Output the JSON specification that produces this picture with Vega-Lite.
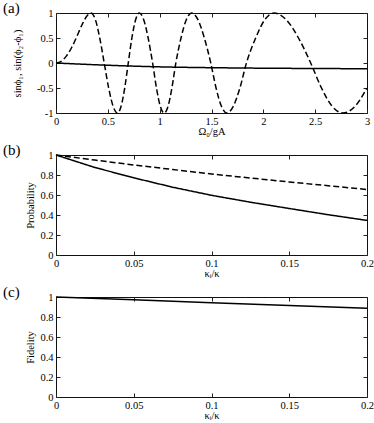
{
  "$schema": "https://vega.github.io/schema/vega-lite/v6.json",
  "padding": {"left": 2, "top": 0, "right": 0, "bottom": 0},
  "spacing": 42,
  "bounds": "flush",
  "datasets": {
    "a": [
      {"series": "dashed", "x": 0, "y": 0},
      {"series": "dashed", "x": 0.05, "y": 0.034},
      {"series": "dashed", "x": 0.1, "y": 0.138},
      {"series": "dashed", "x": 0.15, "y": 0.305},
      {"series": "dashed", "x": 0.2, "y": 0.524},
      {"series": "dashed", "x": 0.25, "y": 0.76},
      {"series": "dashed", "x": 0.3, "y": 0.946},
      {"series": "dashed", "x": 0.337, "y": 1},
      {"series": "dashed", "x": 0.38, "y": 0.866},
      {"series": "dashed", "x": 0.422, "y": 0.5},
      {"series": "dashed", "x": 0.465, "y": 0},
      {"series": "dashed", "x": 0.508, "y": -0.5},
      {"series": "dashed", "x": 0.551, "y": -0.866},
      {"series": "dashed", "x": 0.594, "y": -1},
      {"series": "dashed", "x": 0.628, "y": -0.866},
      {"series": "dashed", "x": 0.663, "y": -0.5},
      {"series": "dashed", "x": 0.697, "y": 0},
      {"series": "dashed", "x": 0.732, "y": 0.5},
      {"series": "dashed", "x": 0.768, "y": 0.866},
      {"series": "dashed", "x": 0.803, "y": 1},
      {"series": "dashed", "x": 0.846, "y": 0.866},
      {"series": "dashed", "x": 0.889, "y": 0.5},
      {"series": "dashed", "x": 0.932, "y": 0},
      {"series": "dashed", "x": 0.969, "y": -0.5},
      {"series": "dashed", "x": 1.006, "y": -0.866},
      {"series": "dashed", "x": 1.043, "y": -1},
      {"series": "dashed", "x": 1.081, "y": -0.866},
      {"series": "dashed", "x": 1.118, "y": -0.5},
      {"series": "dashed", "x": 1.156, "y": 0},
      {"series": "dashed", "x": 1.206, "y": 0.5},
      {"series": "dashed", "x": 1.257, "y": 0.866},
      {"series": "dashed", "x": 1.307, "y": 1},
      {"series": "dashed", "x": 1.369, "y": 0.866},
      {"series": "dashed", "x": 1.431, "y": 0.5},
      {"series": "dashed", "x": 1.493, "y": 0},
      {"series": "dashed", "x": 1.544, "y": -0.5},
      {"series": "dashed", "x": 1.596, "y": -0.866},
      {"series": "dashed", "x": 1.647, "y": -1},
      {"series": "dashed", "x": 1.71, "y": -0.866},
      {"series": "dashed", "x": 1.774, "y": -0.5},
      {"series": "dashed", "x": 1.837, "y": 0},
      {"series": "dashed", "x": 1.926, "y": 0.5},
      {"series": "dashed", "x": 2.014, "y": 0.866},
      {"series": "dashed", "x": 2.103, "y": 1},
      {"series": "dashed", "x": 2.221, "y": 0.866},
      {"series": "dashed", "x": 2.339, "y": 0.5},
      {"series": "dashed", "x": 2.457, "y": 0},
      {"series": "dashed", "x": 2.561, "y": -0.5},
      {"series": "dashed", "x": 2.664, "y": -0.866},
      {"series": "dashed", "x": 2.768, "y": -1},
      {"series": "dashed", "x": 2.884, "y": -0.866},
      {"series": "dashed", "x": 3.0, "y": -0.5},
      {"series": "solid", "x": 0, "y": 0},
      {"series": "solid", "x": 0.25, "y": -0.024},
      {"series": "solid", "x": 0.5, "y": -0.045},
      {"series": "solid", "x": 0.75, "y": -0.063},
      {"series": "solid", "x": 1, "y": -0.077},
      {"series": "solid", "x": 1.25, "y": -0.087},
      {"series": "solid", "x": 1.5, "y": -0.094},
      {"series": "solid", "x": 2, "y": -0.104},
      {"series": "solid", "x": 2.5, "y": -0.11},
      {"series": "solid", "x": 3, "y": -0.115}
    ],
    "b": [
      {"series": "dashed", "x": 0, "y": 1},
      {"series": "dashed", "x": 0.025, "y": 0.949},
      {"series": "dashed", "x": 0.05, "y": 0.9},
      {"series": "dashed", "x": 0.075, "y": 0.855},
      {"series": "dashed", "x": 0.1, "y": 0.81},
      {"series": "dashed", "x": 0.125, "y": 0.77},
      {"series": "dashed", "x": 0.15, "y": 0.73},
      {"series": "dashed", "x": 0.175, "y": 0.693},
      {"series": "dashed", "x": 0.2, "y": 0.655},
      {"series": "solid", "x": 0, "y": 1},
      {"series": "solid", "x": 0.025, "y": 0.875},
      {"series": "solid", "x": 0.05, "y": 0.772},
      {"series": "solid", "x": 0.075, "y": 0.678},
      {"series": "solid", "x": 0.1, "y": 0.597},
      {"series": "solid", "x": 0.125, "y": 0.528},
      {"series": "solid", "x": 0.15, "y": 0.465},
      {"series": "solid", "x": 0.175, "y": 0.403},
      {"series": "solid", "x": 0.2, "y": 0.346}
    ],
    "c": [
      {"series": "solid", "x": 0, "y": 1},
      {"series": "solid", "x": 0.05, "y": 0.972},
      {"series": "solid", "x": 0.1, "y": 0.943},
      {"series": "solid", "x": 0.15, "y": 0.915},
      {"series": "solid", "x": 0.2, "y": 0.888}
    ]
  },
  "vconcat": [
    {
      "width": 311,
      "height": 100,
      "data": {"name": "a"},
      "title": {"text": "(a)", "anchor": "start", "frame": "group", "dx": -53, "dy": 20, "baseline": "alphabetic", "offset": 0, "fontSize": 15, "fontWeight": "normal", "font": "Liberation Serif"},
      "layer": [
        {
          "mark": {"type": "line", "interpolate": "monotone", "color": "black", "strokeWidth": 1.5},
          "encoding": {
            "x": {"field": "x", "type": "quantitative", "scale": {"domain": [0, 3], "nice": false, "zero": false},
                  "axis": {"values": [0, 0.5, 1, 1.5, 2, 2.5, 3], "title": "Ω₀/gA", "titlePadding": 0, "labelExpr": "datum.value < 0 ? '-' + format(-datum.value, '~g') : format(datum.value, '~g')"}},
            "y": {"field": "y", "type": "quantitative", "scale": {"domain": [-1, 1], "nice": false, "zero": false},
                  "axis": {"values": [-1, -0.5, 0, 0.5, 1], "title": "sinϕ₁, sin(ϕ₂-ϕ₁)", "titlePadding": 14, "labelExpr": "datum.value < 0 ? '-' + format(-datum.value, '~g') : format(datum.value, '~g')"}},
            "strokeDash": {"field": "series", "type": "nominal", "scale": {"domain": ["solid", "dashed"], "range": [[1, 0], [6, 3]]}, "legend": null}
          }
        },
        {
          "mark": {"type": "line", "opacity": 0},
          "encoding": {
            "x": {"field": "x", "type": "quantitative", "scale": {"domain": [0, 3], "nice": false, "zero": false},
                  "axis": {"orient": "top", "values": [0, 0.5, 1, 1.5, 2, 2.5, 3], "labels": false, "title": null}},
            "y": {"field": "y", "type": "quantitative", "scale": {"domain": [-1, 1], "nice": false, "zero": false},
                  "axis": {"orient": "right", "values": [-1, -0.5, 0, 0.5, 1], "labels": false, "title": null}}
          }
        }
      ],
      "resolve": {"axis": {"x": "independent", "y": "independent"}}
    },
    {
      "width": 311,
      "height": 100,
      "data": {"name": "b"},
      "title": {"text": "(b)", "anchor": "start", "frame": "group", "dx": -53, "dy": 20, "baseline": "alphabetic", "offset": 0, "fontSize": 15, "fontWeight": "normal", "font": "Liberation Serif"},
      "layer": [
        {
          "mark": {"type": "line", "color": "black", "strokeWidth": 1.5},
          "encoding": {
            "x": {"field": "x", "type": "quantitative", "scale": {"domain": [0, 0.2], "nice": false, "zero": false},
                  "axis": {"values": [0, 0.05, 0.1, 0.15, 0.2], "title": "κᵢ/κ", "titlePadding": 0, "labelExpr": "format(datum.value, '~g')"}},
            "y": {"field": "y", "type": "quantitative", "scale": {"domain": [0, 1], "nice": false, "zero": false},
                  "axis": {"values": [0, 0.2, 0.4, 0.6, 0.8, 1], "title": "Probability", "titlePadding": 4, "labelExpr": "format(datum.value, '~g')"}},
            "strokeDash": {"field": "series", "type": "nominal", "scale": {"domain": ["solid", "dashed"], "range": [[1, 0], [6, 3]]}, "legend": null}
          }
        },
        {
          "mark": {"type": "line", "opacity": 0},
          "encoding": {
            "x": {"field": "x", "type": "quantitative", "scale": {"domain": [0, 0.2], "nice": false, "zero": false},
                  "axis": {"orient": "top", "values": [0, 0.05, 0.1, 0.15, 0.2], "labels": false, "title": null}},
            "y": {"field": "y", "type": "quantitative", "scale": {"domain": [0, 1], "nice": false, "zero": false},
                  "axis": {"orient": "right", "values": [0, 0.2, 0.4, 0.6, 0.8, 1], "labels": false, "title": null}}
          }
        }
      ],
      "resolve": {"axis": {"x": "independent", "y": "independent"}}
    },
    {
      "width": 311,
      "height": 100,
      "data": {"name": "c"},
      "title": {"text": "(c)", "anchor": "start", "frame": "group", "dx": -53, "dy": 20, "baseline": "alphabetic", "offset": 0, "fontSize": 15, "fontWeight": "normal", "font": "Liberation Serif"},
      "layer": [
        {
          "mark": {"type": "line", "color": "black", "strokeWidth": 1.5},
          "encoding": {
            "x": {"field": "x", "type": "quantitative", "scale": {"domain": [0, 0.2], "nice": false, "zero": false},
                  "axis": {"values": [0, 0.05, 0.1, 0.15, 0.2], "title": "κᵢ/κ", "titlePadding": 0, "labelExpr": "format(datum.value, '~g')"}},
            "y": {"field": "y", "type": "quantitative", "scale": {"domain": [0, 1], "nice": false, "zero": false},
                  "axis": {"values": [0, 0.2, 0.4, 0.6, 0.8, 1], "title": "Fidelity", "titlePadding": 4, "labelExpr": "format(datum.value, '~g')"}}
          }
        },
        {
          "mark": {"type": "line", "opacity": 0},
          "encoding": {
            "x": {"field": "x", "type": "quantitative", "scale": {"domain": [0, 0.2], "nice": false, "zero": false},
                  "axis": {"orient": "top", "values": [0, 0.05, 0.1, 0.15, 0.2], "labels": false, "title": null}},
            "y": {"field": "y", "type": "quantitative", "scale": {"domain": [0, 1], "nice": false, "zero": false},
                  "axis": {"orient": "right", "values": [0, 0.2, 0.4, 0.6, 0.8, 1], "labels": false, "title": null}}
          }
        }
      ],
      "resolve": {"axis": {"x": "independent", "y": "independent"}}
    }
  ],
  "config": {
    "font": "Liberation Serif",
    "view": {"stroke": "#111", "strokeWidth": 1},
    "axis": {
      "grid": false, "domain": false, "tickSize": -4, "tickColor": "#222", "minExtent": 0,
      "labelFont": "Liberation Serif", "labelFontSize": 10.5, "labelColor": "black", "labelPadding": 7, "labelFlush": false,
      "titleFont": "Liberation Serif", "titleFontSize": 10.5, "titleFontWeight": "normal", "titleColor": "black", "titlePadding": 2
    }
  }
}
